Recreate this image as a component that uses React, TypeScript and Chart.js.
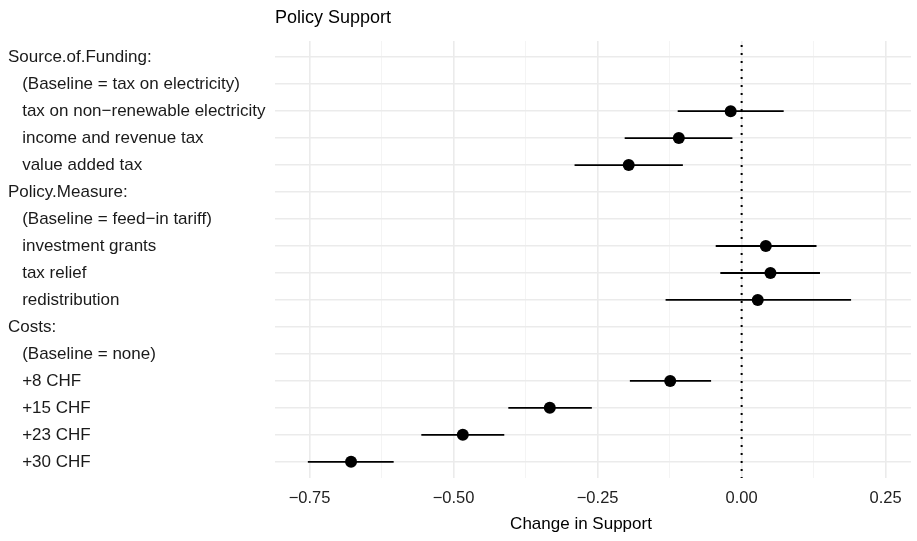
import React, { useEffect, useRef } from "react";
import { Chart, registerables } from "chart.js";

Chart.register(...registerables);

const categories: string[] = [
  "Source.of.Funding:",
  "   (Baseline = tax on electricity)",
  "   tax on non\u2212renewable electricity",
  "   income and revenue tax",
  "   value added tax",
  "Policy.Measure:",
  "   (Baseline = feed\u2212in tariff)",
  "   investment grants",
  "   tax relief",
  "   redistribution",
  "Costs:",
  "   (Baseline = none)",
  "   +8 CHF",
  "   +15 CHF",
  "   +23 CHF",
  "   +30 CHF",
];

const estimates: (number | null)[] = [
  null, null, -0.019, -0.109, -0.196,
  null, null, 0.042, 0.05, 0.028,
  null, null, -0.124, -0.333, -0.484, -0.678,
];
const lowerCI: (number | null)[] = [
  null, null, -0.111, -0.203, -0.29,
  null, null, -0.045, -0.037, -0.132,
  null, null, -0.194, -0.405, -0.556, -0.753,
];
const upperCI: (number | null)[] = [
  null, null, 0.073, -0.016, -0.102,
  null, null, 0.13, 0.136, 0.19,
  null, null, -0.053, -0.26, -0.412, -0.604,
];

const xMajorTicks = [-0.75, -0.5, -0.25, 0, 0.25];
const xMinorTicks = [-0.625, -0.375, -0.125, 0.125];
const referenceLine = 0;

const TITLE = "Policy Support";
const X_TITLE = "Change in Support";
const FONT = '"Liberation Sans", Arial, Helvetica, sans-serif';

const fmt = (v: number) => {
  const s = Math.abs(v).toFixed(2);
  return v < 0 ? "\u2212" + s : s;
};

export default function App() {
  const ref = useRef<HTMLCanvasElement | null>(null);

  useEffect(() => {
    if (!ref.current) return;
    const Y_MIN = -0.6;
    const Y_MAX = categories.length - 1 + 0.6;

    const errorSets: any[] = [];
    categories.forEach((_, i) => {
      const lo = lowerCI[i];
      const hi = upperCI[i];
      if (lo === null || hi === null) return;
      errorSets.push({
        type: "scatter",
        data: [
          { x: lo, y: i },
          { x: hi, y: i },
        ],
        showLine: true,
        borderColor: "#000000",
        borderWidth: 1.8,
        pointRadius: 0,
        order: 2,
      });
    });

    const pointData = estimates
      .map((v, i) => (v === null ? null : { x: v, y: i }))
      .filter((p) => p !== null);

    const textPlugin = {
      id: "ggText",
      afterDraw(chart: any) {
        const { ctx, chartArea } = chart;
        ctx.save();
        ctx.fillStyle = "#000000";
        ctx.font = `18px ${FONT}`;
        ctx.textAlign = "left";
        ctx.textBaseline = "middle";
        ctx.fillText(TITLE, chartArea.left, 18);
        ctx.font = `17px ${FONT}`;
        ctx.textAlign = "center";
        ctx.fillText(X_TITLE, chartArea.left + 306, 524);
        ctx.restore();
      },
    };

    const chart = new Chart(ref.current, {
      type: "scatter",
      data: {
        datasets: [
          ...errorSets,
          {
            type: "scatter",
            data: [
              { x: referenceLine, y: Y_MIN },
              { x: referenceLine, y: Y_MAX },
            ],
            showLine: true,
            borderColor: "#000000",
            borderWidth: 2,
            borderDash: [2, 6],
            borderDashOffset: 4,
            pointRadius: 0,
            order: 3,
          },
          {
            type: "scatter",
            data: pointData,
            pointRadius: 6,
            pointBackgroundColor: "#000000",
            pointBorderColor: "#000000",
            pointBorderWidth: 0,
            order: 1,
          },
        ],
      },
      options: {
        animation: false,
        responsive: false,
        maintainAspectRatio: false,
        layout: { padding: { left: 8, right: 1, top: 41, bottom: 0 } },
        plugins: {
          legend: { display: false },
          tooltip: { enabled: false },
          title: { display: false },
        },
        scales: {
          x: {
            type: "linear",
            min: -0.81,
            max: 0.294,
            afterBuildTicks: (scale: any) => {
              scale.ticks = [...xMajorTicks, ...xMinorTicks]
                .sort((a, b) => a - b)
                .map((v) => ({ value: v }));
            },
            afterFit: (scale: any) => {
              scale.height = 63;
            },
            ticks: {
              autoSkip: false,
              maxRotation: 0,
              padding: 11,
              color: "#222222",
              font: { family: FONT, size: 16.5 },
              callback: (v: any) => (xMajorTicks.includes(v) ? fmt(v) : ""),
            },
            grid: {
              drawTicks: false,
              color: (ctx: any) =>
                xMajorTicks.includes(ctx.tick?.value) ? "#ebebeb" : "#f3f3f3",
              lineWidth: (ctx: any) =>
                xMajorTicks.includes(ctx.tick?.value) ? 1.6 : 0.9,
            },
            border: { display: false },
          },
          y: {
            type: "linear",
            min: Y_MIN,
            max: Y_MAX,
            reverse: true,
            afterBuildTicks: (scale: any) => {
              scale.ticks = categories.map((_, i) => ({ value: i }));
            },
            afterFit: (scale: any) => {
              scale.width = 267;
            },
            ticks: {
              autoSkip: false,
              crossAlign: "far",
              padding: 8,
              color: "#1a1a1a",
              font: { family: FONT, size: 17 },
              callback: (v: any) => categories[v as number] ?? "",
            },
            grid: {
              drawTicks: false,
              color: "#ebebeb",
              lineWidth: 1.6,
            },
            border: { display: false },
          },
        },
      },
      plugins: [textPlugin],
    } as any);

    return () => chart.destroy();
  }, []);

  return (
    <div
      style={{
        position: "fixed",
        left: 0,
        top: 0,
        width: 917,
        height: 541,
        background: "#ffffff",
      }}
    >
      <canvas
        ref={ref}
        width={917}
        height={541}
        style={{ width: 917, height: 541, display: "block" }}
      />
    </div>
  );
}
